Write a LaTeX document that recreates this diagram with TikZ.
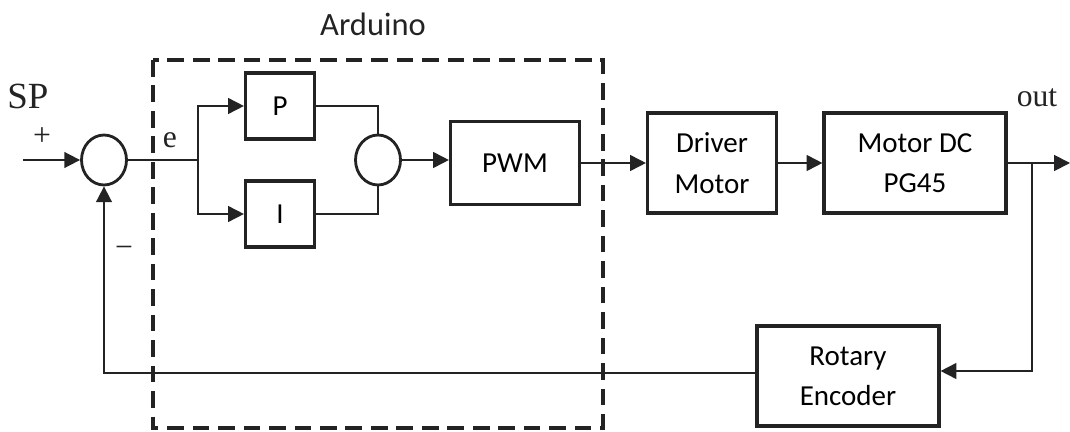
\documentclass[tikz,border=0pt]{standalone}
\usepackage{fontspec}
\setmainfont{Liberation Serif}
\newfontfamily\boxfont{Carlito}
\usetikzlibrary{arrows.meta, positioning, shapes.geometric}
\definecolor{lineblack}{RGB}{35, 35, 35}
\tikzset{
  blk/.style={draw=lineblack, line width=1.8pt, align=center, font=\boxfont\fontsize{16.5}{23}\selectfont, inner sep=0pt},
  sumc/.style={draw=lineblack, ellipse, line width=1.6pt, minimum width=0.9cm, minimum height=1.0cm, inner sep=0pt},
  arr/.style={-{Triangle[length=9pt, width=9pt]}, line width=1pt, lineblack},
  wire/.style={line width=1pt, lineblack},
  lbl/.style={font=\fontsize{18}{20}\selectfont, text=lineblack, inner sep=0pt}
}
\begin{document}
\begin{tikzpicture}[x=0.02cm, y=-0.02cm]
                \useasboundingbox (0,0) rectangle (1070,432);
                % Arduino box
                \draw[lineblack, line width=2pt, dash pattern=on 9.5pt off 5pt] (153,60) rectangle (603,428);
                \node[font=\boxfont\fontsize{18.5}{20}\selectfont, text=lineblack] (ardlbl) at (373,24) {Arduino};
                % blocks
                \node[sumc] (sum1) at (104,160) {};
                \node[sumc] (sum2) at (378,160) {};
                \node[blk, minimum width=1.38cm, minimum height=1.32cm] (pblk) at (280,106) {P};
                \node[blk, minimum width=1.38cm, minimum height=1.32cm] (iblk) at (280,214) {I};
                \node[blk, minimum width=2.58cm, minimum height=1.66cm] (pwm) at (515,163) {PWM};
                \node[blk, minimum width=2.58cm, minimum height=2.0cm] (drv) at (712,163) {Driver\\Motor};
                \node[blk, minimum width=3.64cm, minimum height=2.0cm] (motor) at (915,163) {Motor DC\\PG45};
                \node[blk, minimum width=3.64cm, minimum height=2.0cm] (enc) at (848,376) {Rotary\\Encoder};
                % points
                \coordinate (sp) at (23,160);
                \coordinate (br) at (198,160);
                \coordinate (tap) at (1032,163);
                \coordinate (outp) at (1070,163);
                % labels
                \node[lbl, font=\fontsize{21}{22}\selectfont] (splbl) at (28,96) {SP};
                \node[lbl] (plus) at (42,137) {+};
                \node[lbl] (elbl) at (170,140) {e};
                \node[lbl] (minus) at (124,252) {\textminus};
                \node[lbl] (outlbl) at (1037,98) {out};
                % connectors
                \draw[arr] (sp) -- (sum1.west);
                \draw[wire] (sum1.east) -- (br);
                \draw[arr] (br) |- (pblk.west);
                \draw[arr] (br) |- (iblk.west);
                \draw[wire] (pblk.east) -| (sum2.north);
                \draw[wire] (iblk.east) -| (sum2.south);
                \draw[arr] (sum2.east) -- (sum2.east -| pwm.west);
                \draw[arr] (pwm.east) -- (drv.west);
                \draw[arr] (drv.east) -- (motor.west);
                \draw[arr] (motor.east) -- (outp);
                \draw[arr] (tap) |- (enc.east |- 0,371);
                \draw[arr] (enc.west |- 0,373) -| (sum1.south);
            \end{tikzpicture}
\end{document}
